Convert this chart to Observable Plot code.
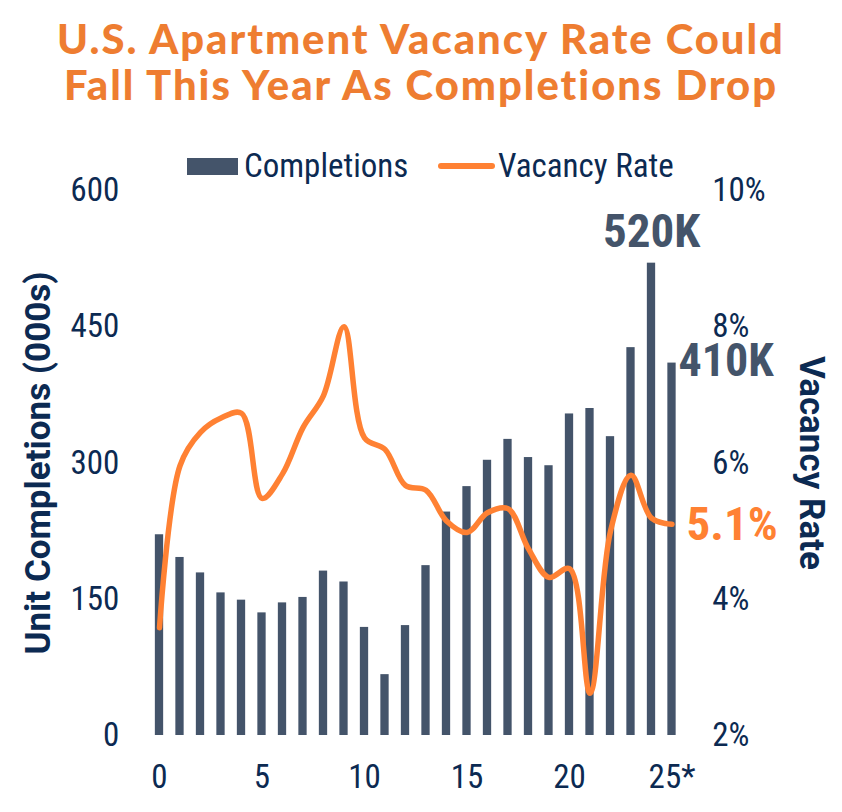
<!DOCTYPE html>
<html>
<head>
<meta charset="utf-8">
<script src="https://cdn.jsdelivr.net/npm/d3@7"></script>
<script src="https://cdn.jsdelivr.net/npm/@observablehq/plot@0.6"></script>
<style>
  body { margin: 0; background: #fff; }
  #wrap { position: relative; width: 842px; height: 812px; overflow: hidden; background: #fff; }
  #title { position: absolute; left: 0; top: 15px; width: 842px; text-align: center;
           font-family: Lato, "Open Sans", sans-serif; font-weight: 900; color: #EE7D31;
           font-size: 38px; line-height: 46px; letter-spacing: 2px; }
  #title div { height: 46px; white-space: nowrap; }
  #title span { display: inline-block; white-space: nowrap; }
  .narrow { font-family: "Roboto Condensed", "Liberation Sans Narrow", "Arial Narrow", Roboto, sans-serif; }
  #legend { position: absolute; left: 0; top: 146px; width: 842px; height: 40px; color: #0C2A52; font-size: 33px; }
  #legend .sw { position: absolute; left: 187px; top: 12px; width: 51px; height: 17px; background: #44546A; }
  #legend .ln { position: absolute; left: 438px; top: 17px; width: 57px; height: 6px; border-radius: 3px; background: #FF8133; }
  #legend .t { position: absolute; top: 0; line-height: 40px; white-space: nowrap; }
  #chart { position: absolute; left: 0; top: 120px; }
</style>
</head>
<body>
<div id="wrap">
  <div id="title"><div><span id="t1">U.S. Apartment Vacancy Rate Could</span></div><div><span id="t2">Fall This Year As Completions Drop</span></div></div>
  <div id="chart"></div>
  <div id="legend" class="narrow">
    <div class="sw"></div><div class="t" style="left:244px">Completions</div>
    <div class="ln"></div><div class="t" style="left:498px">Vacancy Rate</div>
  </div>
</div>
<script>
// ---- data ----
const years = [0,1,2,3,4,5,6,7,8,9,10,11,12,13,14,15,16,17,18,19,20,21,22,23,24,25];
const completions = [221,196,179,157,149,135,146,152,181,169,119,67,121,187,246,274,303,326,306,297,354,360,329,427,520,410];
const vacancy = [3.58,5.96,6.45,6.66,6.73,5.48,5.84,6.52,6.99,8.0,6.37,6.2,5.67,5.6,5.15,4.98,5.27,5.33,4.74,4.32,4.45,2.62,5.0,5.82,5.19,5.1];
const xTicks = [0,5,10,15,20,25];
const xTickLabels = ["0","5","10","15","20","25*"];
const leftTicks = [0,150,300,450,600];
const rightTickLabels = ["2%","4%","6%","8%","10%"];

// ---- fit title width ----
(function fitTitle(){
  const t1 = document.getElementById("t1");
  const title = document.getElementById("title");
  const w = t1.getBoundingClientRect().width;
  const n = t1.textContent.length;
  const fs = 38 * (728 - 2 * n) / (w - 2 * n);
  title.style.fontSize = fs + "px";
})();

const NARROW = '"Roboto Condensed", "Liberation Sans Narrow", "Arial Narrow", Roboto, sans-serif';
const navy = "#0C2A52", barColor = "#44546A", orange = "#FF8133";

const table = years.map((yr, i) => ({year: yr, completions: completions[i], vacancy: vacancy[i]}));
// vacancy rate (2%..10%) drawn on the completions scale (0..600)
const vy = v => (v - 2) * 75;

const last = table[table.length - 1];
const peak = table[24];

const chart = Plot.plot({
  width: 842,
  height: 692,
  marginTop: 70,
  marginBottom: 77,
  marginLeft: 148.75,
  marginRight: 160.25,
  style: { fontFamily: NARROW, fontSize: "33px", color: navy, background: "transparent", overflow: "visible" },
  x: { type: "linear", domain: [-0.5, 25.5] },
  y: { domain: [0, 600] },
  marks: [
    Plot.rectY(table, { x1: d => d.year - 0.5, x2: d => d.year + 0.5, y: "completions", fill: barColor, insetLeft: 6.1, insetRight: 6.1 }),
    Plot.line(table, { x: "year", y: d => vy(d.vacancy), stroke: orange, strokeWidth: 5.5, curve: "catmull-rom", strokeLinecap: "round", strokeLinejoin: "round" }),
    Plot.axisY(leftTicks, { anchor: "left", tickSize: 0, tickPadding: 30, label: null, fill: navy }),
    Plot.axisY(leftTicks, { anchor: "right", tickSize: 0, tickPadding: 30, label: null, fill: navy,
      tickFormat: d => rightTickLabels[leftTicks.indexOf(d)] }),
    Plot.axisX(xTicks, { anchor: "bottom", tickSize: 0, tickPadding: 29, label: null, fill: navy,
      tickFormat: d => xTickLabels[xTicks.indexOf(d)] }),
    Plot.text([peak], { x: "year", y: "completions", text: d => `${d.completions}K`, lineAnchor: "middle", dy: -31,
      fill: barColor, fontSize: 47, fontWeight: "bold", fontFamily: NARROW }),
    Plot.text([last], { x: "year", y: "completions", text: d => `${d.completions}K`, textAnchor: "start", lineAnchor: "middle", dx: 6.5, dy: -2,
      fill: barColor, fontSize: 46, fontWeight: "bold", fontFamily: NARROW }),
    Plot.text([last], { x: "year", y: d => vy(d.vacancy), text: d => `${d.vacancy}%`, textAnchor: "start", lineAnchor: "middle", dx: 14.5, dy: 1,
      fill: orange, fontSize: 47, fontWeight: "bold", fontFamily: NARROW }),
    Plot.text(["Unit Completions (000s)"], { frameAnchor: "left", textAnchor: "middle", dx: -110, rotate: -90, fill: navy,
      fontSize: 35, fontWeight: "bold", fontFamily: "Roboto, sans-serif" }),
    Plot.text(["Vacancy Rate"], { frameAnchor: "right", textAnchor: "middle", dx: 129, rotate: 90, fill: navy,
      fontSize: 35, fontWeight: "bold", fontFamily: "Roboto, sans-serif" })
  ]
});
document.getElementById("chart").appendChild(chart);
</script>
</body>
</html>
